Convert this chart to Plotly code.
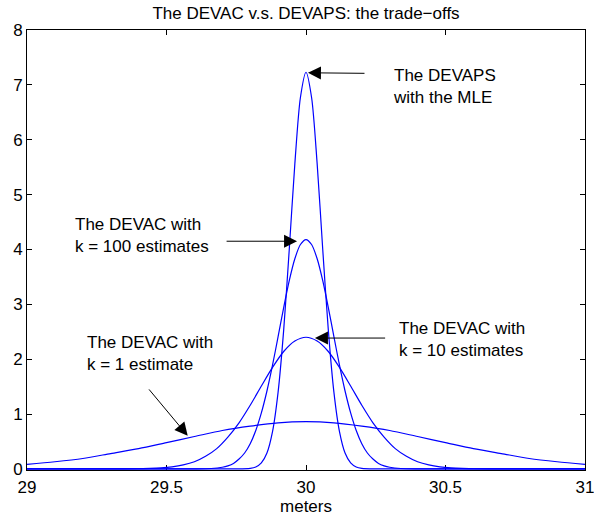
import plotly.graph_objects as go

# Densities of the position estimates (metres), sampled across the axis range
x_mle = [29.0, 29.7, 29.75, 29.8, 29.82, 29.84, 29.86, 29.88, 29.9, 29.92, 29.94, 29.96, 29.98,
         30.0, 30.02, 30.04, 30.06, 30.08, 30.1, 30.12, 30.14, 30.16, 30.18, 30.2, 30.25, 30.3, 31.0]
y_mle = [0.0, 0.0, 0.0, 0.01, 0.035, 0.11, 0.29, 0.68, 1.40, 2.53, 4.00, 5.56, 6.77,
         7.23, 6.77, 5.56, 4.00, 2.53, 1.40, 0.68, 0.29, 0.11, 0.035, 0.01, 0.0, 0.0, 0.0]

x_k100 = [29.0, 29.5, 29.6, 29.66, 29.7, 29.72, 29.74, 29.76, 29.78, 29.8, 29.82, 29.84, 29.86,
          29.88, 29.9, 29.92, 29.94, 29.96, 29.98, 30.0, 30.02, 30.04, 30.06, 30.08, 30.1, 30.12,
          30.14, 30.16, 30.18, 30.2, 30.22, 30.24, 30.26, 30.28, 30.3, 30.34, 30.4, 30.5, 31.0]
y_k100 = [0.0, 0.0, 0.0, 0.007, 0.03, 0.056, 0.10, 0.18, 0.29, 0.46, 0.70, 1.02, 1.42,
          1.89, 2.41, 2.94, 3.43, 3.83, 4.09, 4.18, 4.09, 3.83, 3.43, 2.94, 2.41, 1.89,
          1.42, 1.02, 0.70, 0.46, 0.29, 0.18, 0.10, 0.056, 0.03, 0.007, 0.0, 0.0, 0.0]

x_k10 = [29.0, 29.2, 29.3, 29.4, 29.44, 29.48, 29.52, 29.56, 29.6, 29.64, 29.68, 29.72, 29.76,
         29.8, 29.84, 29.88, 29.92, 29.96, 30.0, 30.04, 30.08, 30.12, 30.16, 30.2, 30.24, 30.28,
         30.32, 30.36, 30.4, 30.44, 30.48, 30.52, 30.56, 30.6, 30.7, 30.8, 31.0]
y_k10 = [0.0, 0.0, 0.0, 0.003, 0.008, 0.018, 0.037, 0.072, 0.13, 0.23, 0.37, 0.58, 0.84,
         1.16, 1.51, 1.85, 2.14, 2.33, 2.40, 2.33, 2.14, 1.85, 1.51, 1.16, 0.84, 0.58,
         0.37, 0.23, 0.13, 0.072, 0.037, 0.018, 0.008, 0.003, 0.0, 0.0, 0.0]

x_k1 = [29.0, 29.1, 29.2, 29.3, 29.4, 29.5, 29.6, 29.7, 29.8, 29.9, 30.0,
        30.1, 30.2, 30.3, 30.4, 30.5, 30.6, 30.7, 30.8, 30.9, 31.0]
y_k1 = [0.084, 0.13, 0.19, 0.28, 0.37, 0.48, 0.59, 0.70, 0.78, 0.84, 0.86,
        0.84, 0.78, 0.70, 0.59, 0.48, 0.37, 0.28, 0.19, 0.13, 0.084]

x_ticks = [29, 29.5, 30, 30.5, 31]
x_tick_text = ["29", "29.5", "30", "30.5", "31"]
y_ticks = [0, 1, 2, 3, 4, 5, 6, 7, 8]

FONT = "Liberation Sans, Arial, Helvetica, sans-serif"
BLUE = "#0000ff"

fig = go.Figure()
for xs, ys in [(x_mle, y_mle), (x_k100, y_k100), (x_k10, y_k10), (x_k1, y_k1)]:
    fig.add_trace(go.Scatter(x=xs, y=ys, mode="lines",
                             line=dict(color=BLUE, width=1.2, shape="spline", smoothing=0.8),
                             hoverinfo="skip", showlegend=False))

# (text, left x, centre y)
labels = [
    ("The DEVAPS<br>with the MLE", 30.305, 6.97),
    ("The DEVAC with<br>k = 100 estimates", 29.164, 4.26),
    ("The DEVAC with<br>k = 10 estimates", 30.327, 2.355),
    ("The DEVAC with<br>k = 1 estimate", 29.208, 2.10),
]
# (tail x, tail y, head x, head y)
arrows = [
    (30.215, 7.21, 30.007, 7.22),
    (29.710, 4.15, 29.968, 4.15),
    (30.289, 2.385, 30.032, 2.385),
    (29.433, 1.476, 29.576, 0.604),
]

annotations = []
for text, lx, cy in labels:
    annotations.append(dict(x=lx, y=cy, xref="x", yref="y", text=text, showarrow=False,
                            xanchor="left", yanchor="middle", align="left",
                            font=dict(family=FONT, size=17, color="black")))
for tx, ty, hx, hy in arrows:
    annotations.append(dict(x=hx, y=hy, ax=tx, ay=ty, xref="x", yref="y", axref="x", ayref="y",
                            text="", showarrow=True, arrowhead=2, arrowsize=2.6,
                            arrowwidth=1, arrowcolor="black", standoff=0))

fig.update_layout(
    width=594, height=521,
    margin=dict(l=27, r=9, t=30, b=51, autoexpand=False),
    paper_bgcolor="white", plot_bgcolor="white",
    title=dict(text="The DEVAC v.s. DEVAPS: the trade\u2212offs", xref="paper",
               x=0.5, xanchor="center", yref="container", y=1 - 13 / 521,
               yanchor="middle", font=dict(family=FONT, size=17, color="black")),
    annotations=annotations,
    font=dict(family=FONT, size=17, color="black"),
)
fig.update_xaxes(range=[29, 31], tickvals=x_ticks, ticktext=x_tick_text, automargin=False,
                 ticks="inside", ticklen=5, tickcolor="black", showline=True, linecolor="black",
                 linewidth=1, mirror="ticks", showgrid=False, zeroline=False, layer="below traces",
                 ticklabelstandoff=2, ticklabeloverflow="allow",
                 title=dict(text="meters", font=dict(family=FONT, size=17), standoff=2),
                 tickfont=dict(family=FONT, size=17))
fig.update_yaxes(range=[-0.02, 8], tickvals=y_ticks, ticks="inside", ticklen=5, tickcolor="black",
                 showline=True, linecolor="black", linewidth=1, mirror="ticks", showgrid=False,
                 zeroline=False, layer="below traces", automargin=False,
                 ticklabeloverflow="allow", tickfont=dict(family=FONT, size=17))

fig.write_html("out.html")
